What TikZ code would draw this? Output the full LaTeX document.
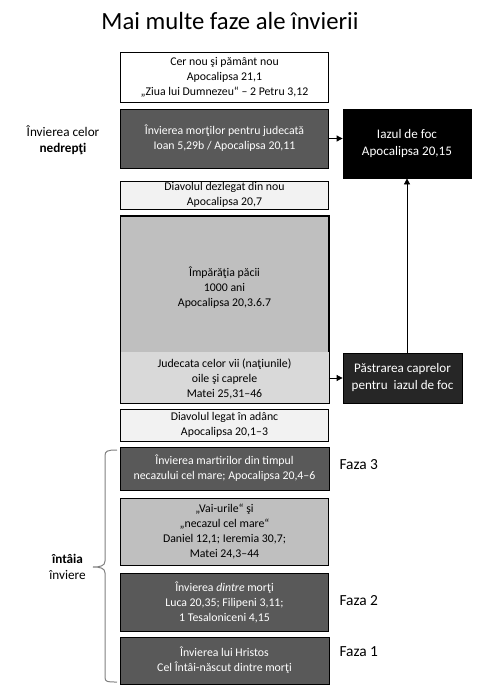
\documentclass[tikz,border=0pt]{standalone}
\usepackage{fontspec}
\setmainfont{Carlito}
\usetikzlibrary{arrows.meta}
\definecolor{darkbox}{HTML}{595959}
\definecolor{blackbox}{HTML}{262626}
\definecolor{midgray}{HTML}{BFBFBF}
\definecolor{lightgray}{HTML}{D9D9D9}
\definecolor{palegray}{HTML}{F2F2F2}
\definecolor{bracegray}{HTML}{808080}
\tikzset{
  box/.style={draw=black, line width=0.8pt, minimum width=208pt, align=center, inner sep=0pt,
    font=\fontsize{11.8}{15}\selectfont},
  darkb/.style={box, fill=darkbox, text=white},
  bigb/.style={draw=black, line width=0.8pt, align=center, inner sep=0pt, text=white,
    font=\fontsize{13.1}{17}\selectfont},
  side/.style={align=center, font=\fontsize{13.2}{16}\selectfont},
  faza/.style={anchor=west, font=\fontsize{15.4}{17}\selectfont},
  arr/.style={-{Triangle[length=6pt,width=6pt]}, line width=0.8pt},
  txt/.style={align=center, font=\fontsize{11.8}{15}\selectfont},
}
\begin{document}
\begin{tikzpicture}[x=1pt,y=-1pt]
\useasboundingbox (0,0) rectangle (491,699);
\node[font=\fontsize{24.7}{28}\selectfont] (title) at (230,21) {Mai multe faze ale învierii};

\node[box, fill=white, minimum height=50pt] (b1) at (224.5,77) {Cer nou şi pământ nou\\Apocalipsa 21,1\\„Ziua lui Dumnezeu“ – 2 Petru 3,12};
\node[darkb, minimum height=59pt] (b2) at (224.5,138.5) {Învierea morţilor pentru judecată\\Ioan 5,29b / Apocalipsa 20,11};
\node[bigb, fill=black, minimum width=128pt, minimum height=69pt] (lake) at (407,143.5) {Iazul de foc\\Apocalipsa 20,15};
\node[box, fill=palegray, minimum height=28pt] (dezl) at (224.5,195) {Diavolul dezlegat din nou\\Apocalipsa 20,7};

\node[box, fill=midgray, minimum height=187pt] (king) at (224.5,309.5) {};
\fill[lightgray] ([shift={(0.4,0)}]king.west |- 0,352) rectangle ([shift={(-0.4,-0.4)}]king.south east);
\draw[line width=0.8pt] (king.north west) rectangle (king.south east);
\node[txt] (kingtext) at (224.5,288) {Împărăţia păcii\\1000 ani\\Apocalipsa 20,3.6.7};
\node[txt] (judtext) at (224.5,379) {Judecata celor vii (naţiunile)\\oile şi caprele\\Matei 25,31–46};

\node[bigb, fill=blackbox, minimum width=119pt, minimum height=50pt] (goats) at (402.5,378) {Păstrarea caprelor\\pentru \ iazul de foc};

\node[box, fill=palegray, minimum height=32pt] (legat) at (224.5,425) {Diavolul legat în adânc\\Apocalipsa 20,1–3};
\node[darkb, minimum height=43pt, minimum width=209pt] (mart) at (224.5,468.5) {Învierea martirilor din timpul\\necazului cel mare; Apocalipsa 20,4–6};
\node[box, fill=midgray, minimum height=67pt] (vai) at (224.5,531.5) {„Vai-urile“ şi\\„necazul cel mare“\\Daniel 12,1; Ieremia 30,7;\\Matei 24,3–44};
\node[darkb, minimum height=58pt] (dintre) at (224.5,602) {Învierea \textit{dintre} morţi\\Luca 20,35; Filipeni 3,11;\\1 Tesaloniceni 4,15};
\node[darkb, minimum height=47pt, minimum width=209pt] (hristos) at (224.5,660.5) {Învierea lui Hristos\\Cel Întâi-născut dintre morţi};

\node[faza] (f3) at (336,465) {Faza 3};
\node[faza] (f2) at (336,601) {Faza 2};
\node[faza] (f1) at (336,652) {Faza 1};

\node[side] (nedr) at (63,140) {Învierea celor\\\textbf{nedrepţi}};
\node[side] (intaia) at (67.5,567) {\textbf{întâia}\\înviere};

\draw[arr] (b2.east) -- (b2.east -| lake.west);
\draw[arr] (goats.west -| king.east) -- (goats.west);
\draw[arr] (goats.north -| lake.south) -- (lake.south);

\draw[bracegray, line width=1pt] (117,450) .. controls (107,450) and (105,451) .. (105,456)
  -- (105,561) .. controls (105,566) and (100,567) .. (93,567)
  .. controls (100,567) and (105,568) .. (105,573)
  -- (105,677) .. controls (105,682) and (107,682) .. (117,682);
\end{tikzpicture}
\end{document}
